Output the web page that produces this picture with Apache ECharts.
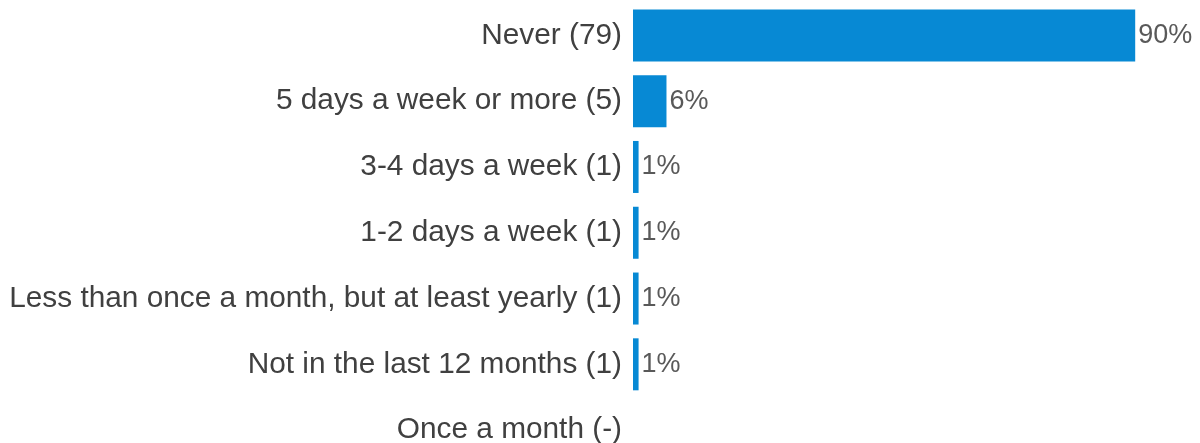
<!DOCTYPE html>
<html>
<head>
<meta charset="utf-8">
<script src="https://cdn.jsdelivr.net/npm/echarts@6/dist/echarts.min.js"></script>
<style>
html,body{margin:0;padding:0;background:#fff;overflow:hidden;width:1200px;height:443px;}
#chart{width:1200px;height:463px;}
</style>
</head>
<body>
<div id="chart"></div>
<script>
var categories = [
  "Never (79)",
  "5 days a week or more (5)",
  "3-4 days a week (1)",
  "1-2 days a week (1)",
  "Less than once a month, but at least yearly (1)",
  "Not in the last 12 months (1)",
  "Once a month (-)"
];
var values = [90, 6, 1, 1, 1, 1, null];
var valueLabels = ["90%", "6%", "1%", "1%", "1%", "1%", ""];

var chart = echarts.init(document.getElementById('chart'));
chart.setOption({
  animation: false,
  backgroundColor: '#ffffff',
  grid: { left: 633, right: 9, top: 2.5, bottom: 0, containLabel: false },
  xAxis: {
    type: 'value', min: 0, max: 100, show: false
  },
  yAxis: {
    type: 'category',
    inverse: true,
    data: categories,
    axisLine: { show: false },
    axisTick: { show: false },
    splitLine: { show: false },
    axisLabel: {
      margin: 11,
      color: '#404040',
      fontFamily: 'Liberation Sans, Arial, sans-serif',
      fontSize: 29.8
    }
  },
  series: [{
    type: 'bar',
    data: values,
    barWidth: 52,
    itemStyle: { color: '#0789D4' },
    label: {
      show: true,
      position: 'right',
      distance: 3,
      color: '#595959',
      fontFamily: 'Liberation Sans, Arial, sans-serif',
      fontSize: 27,
      formatter: function (p) { return valueLabels[p.dataIndex]; }
    }
  }]
});
</script>
</body>
</html>
